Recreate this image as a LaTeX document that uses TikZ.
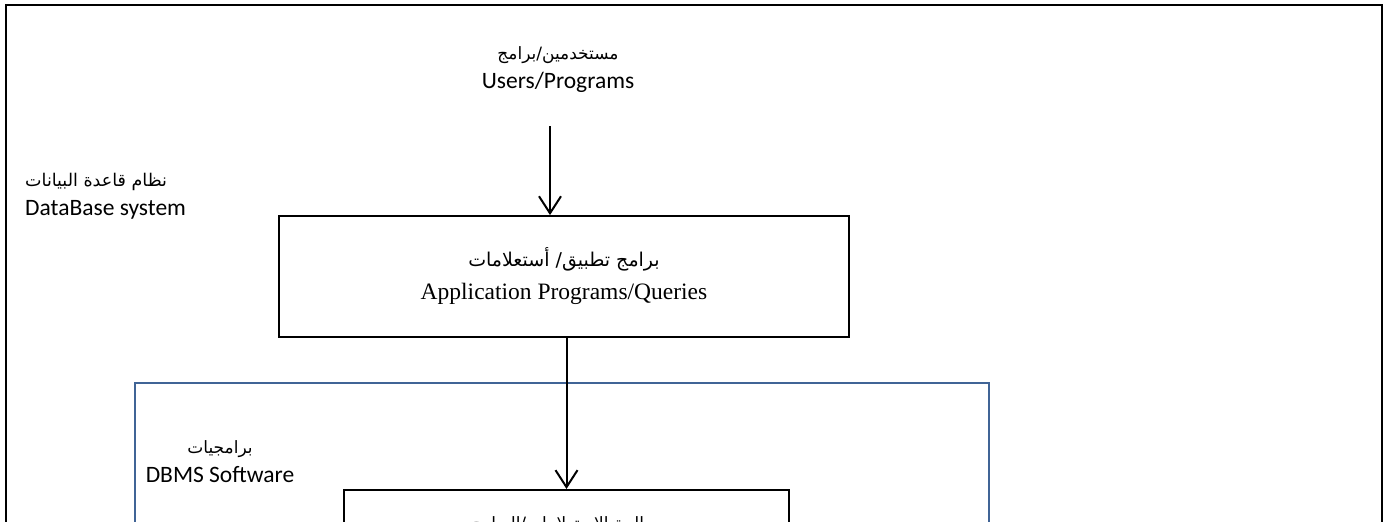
\documentclass[tikz,border=0pt]{standalone}
\usepackage{fontspec}
\setmainfont{Liberation Serif}
\newfontfamily\calfont{Carlito}
\newfontfamily\arfont[Script=Arabic]{DejaVu Sans}
\TeXXeTstate=1
\usetikzlibrary{arrows.meta}
\definecolor{frameblue}{RGB}{64,100,150}
% Arabic run at a given size: \artxt[size]{text}
\newcommand{\artxt}[2][17]{{\arfont\fontsize{#1}{#1}\selectfont\beginR #2\endR}}

\begin{document}
\begin{tikzpicture}[x=1pt,y=-1pt,
  boxed/.style={draw=black, line width=1.8pt, align=center, inner sep=0pt},
  caption/.style={font=\calfont\fontsize{23.5}{29}\selectfont, inner sep=0pt},
  flow/.style={-{Straight Barb[length=17pt,width=22pt]}, line width=2pt}
]
\useasboundingbox (0,0) rectangle (1393,522);
\clip (0,0) rectangle (1393,522);

% outer database-system frame, open at the bottom
\draw[line width=2.2pt] (6,600) -- (6,5) -- (1382,5) -- (1382,600);
% DBMS software frame
\draw[frameblue, line width=2.4pt] (135,600) -- (135,383) -- (989,383) -- (989,600);

% labels
\node[caption, align=center] (users) at (558,70)
  {\artxt{مستخدمين/برامج}\\Users/Programs};
\node[caption, align=left, anchor=west] (dbsys) at (25,196)
  {\artxt[17.5]{نظام قاعدة البيانات}\\DataBase system};
\node[caption, align=center] (dbms) at (220,462)
  {\artxt{برامجيات}\\DBMS Software};

% boxes
\node[boxed, minimum width=570pt, minimum height=121pt,
      font=\fontsize{23.5}{33}\selectfont] (app) at (564,276.5)
  {\artxt[19]{برامج تطبيق/ أستعلامات}\\Application Programs/Queries};
\node[boxed, anchor=north, minimum width=445pt, inner ysep=27pt,
      font=\fontsize{23.5}{33}\selectfont] (proc) at (566.5,489)
  {\artxt[17]{معالجة الاستعلامات/البرامج}};

% flow arrows
\coordinate (src) at (550,126);
\draw[flow] (src) -- (src |- app.north);
\draw[flow] (app.south -| proc.north) -- (proc.north);
\end{tikzpicture}
\end{document}
